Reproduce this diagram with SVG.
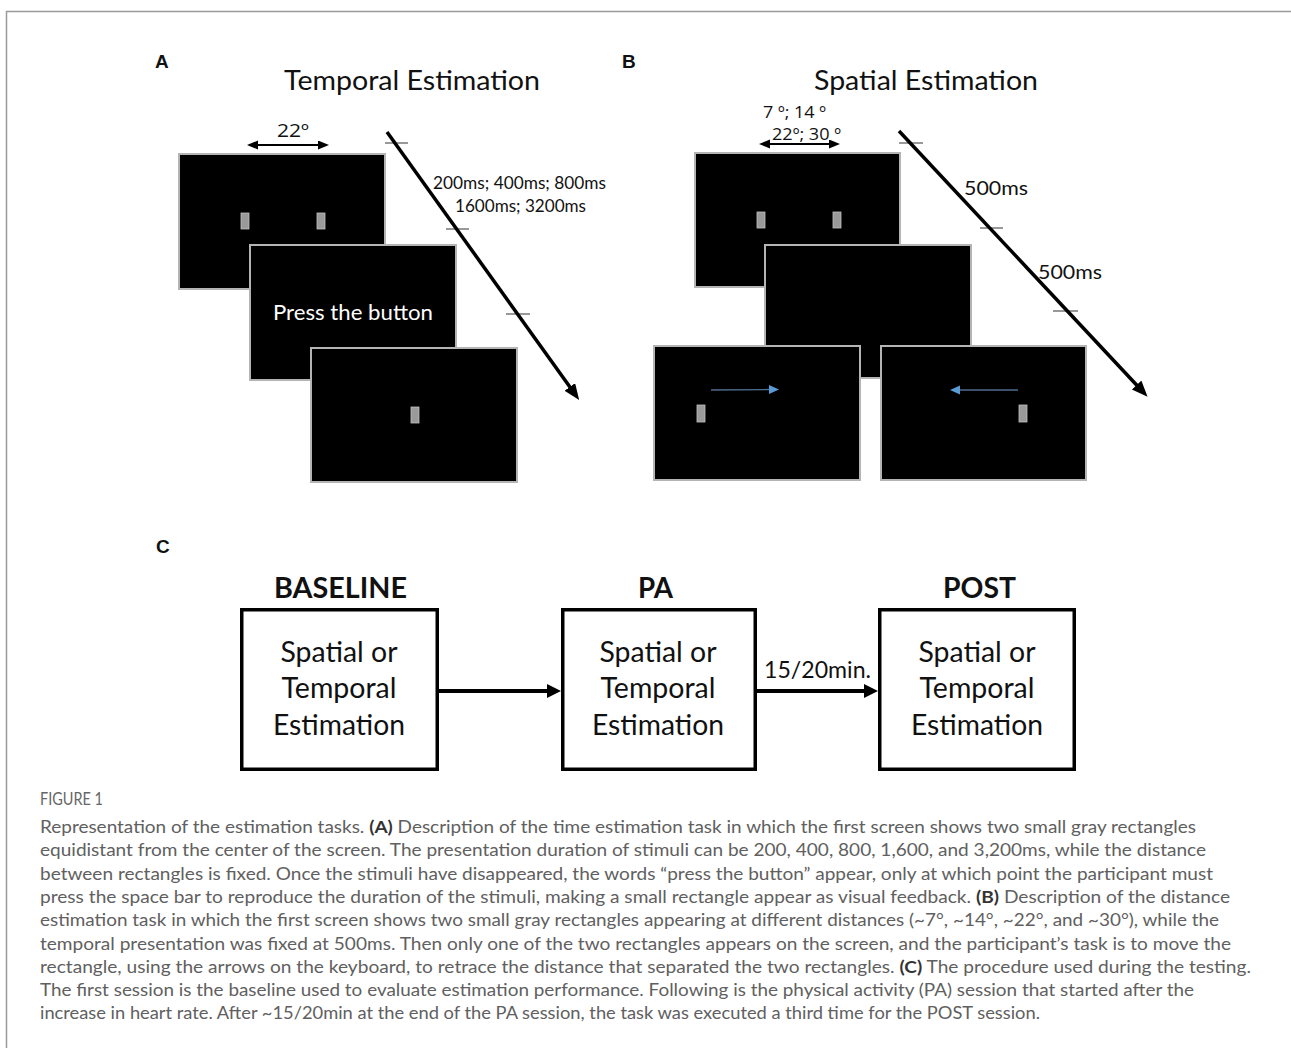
<svg xmlns="http://www.w3.org/2000/svg" width="1291" height="1048" viewBox="0 0 1291 1048">
<style>
.scr{fill:#000;stroke:#b4b4b4;stroke-width:2}
.pix{fill:#9a9a9a;stroke:#c0c0c0;stroke-width:0.8}
.lbl{font-family:Lato,"Open Sans",sans-serif;fill:#111}
.ord{font-family:"Open Sans","DejaVu Sans",sans-serif;fill:#111}
.pan{font-family:"Liberation Sans",Arial,sans-serif;font-weight:bold;font-size:19px;fill:#111}
.tick{stroke:#555;stroke-width:1.2}
.tl{stroke:#000;stroke-width:3.5;fill:none}
.dbl{stroke:#000;stroke-width:2;fill:none}
.blue{stroke:#4f6d8f;stroke-width:1.3;fill:none}
.box{fill:#fff;stroke:#000;stroke-width:3.5}
.flow{stroke:#000;stroke-width:4;fill:none}
.cap{font-family:Lato,"Open Sans",sans-serif;font-size:17px;fill:#606060}
.capb{font-weight:bold;fill:#333}
</style>
<defs>
<marker id="tlHead" markerUnits="userSpaceOnUse" markerWidth="18" markerHeight="14" refX="2" refY="6.5" orient="auto"><path d="M0,0 L16,6.5 L0,13 z" fill="#000"/></marker>
<marker id="flowHead" markerUnits="userSpaceOnUse" markerWidth="16" markerHeight="16" refX="1" refY="7" orient="auto"><path d="M0,0 L14,7 L0,14 z" fill="#000"/></marker>
<marker id="dblHead" markerUnits="userSpaceOnUse" markerWidth="12" markerHeight="10" refX="1" refY="4.5" orient="auto-start-reverse"><path d="M0,0 L11,4.5 L0,9 z" fill="#000"/></marker>
<marker id="blueHead" markerUnits="userSpaceOnUse" markerWidth="12" markerHeight="12" refX="1" refY="4.5" orient="auto"><path d="M0,0 L10,4.5 L0,9 z" fill="#5b9bd5"/></marker>
</defs>

<path d="M6.5,1048 V11.5 H1291" fill="none" stroke="#9a9a9a" stroke-width="1.5"/>

<g id="panelA">
<text class="pan" x="155" y="68">A</text>
<text class="lbl" x="284" y="90" font-size="26" textLength="256" lengthAdjust="spacingAndGlyphs">Temporal Estimation</text>
<g id="screenA1"><rect class="scr" x="179" y="154" width="206" height="135"/><rect class="pix" x="241" y="213" width="8" height="16"/><rect class="pix" x="317" y="213" width="8" height="16"/></g>
<g id="screenA2"><rect class="scr" x="250" y="245" width="206" height="135"/><text class="lbl" x="273" y="320" font-size="22" style="fill:#fff" textLength="160" lengthAdjust="spacingAndGlyphs">Press the button</text></g>
<g id="screenA3"><rect class="scr" x="311" y="348" width="206" height="134"/><rect class="pix" x="411" y="407" width="8" height="16"/></g>
<g id="distA"><line class="dbl" x1="257" y1="145" x2="319" y2="145" marker-start="url(#dblHead)" marker-end="url(#dblHead)"/><text class="ord" x="277" y="137" font-size="18" textLength="32" lengthAdjust="spacingAndGlyphs">22º</text></g>
<g id="timeA">
<line class="tick" x1="385" y1="143" x2="408" y2="143"/>
<line class="tick" x1="446" y1="229" x2="469" y2="229"/>
<line class="tick" x1="506" y1="314" x2="530" y2="314"/>
<text class="lbl" x="433" y="189" font-size="17" textLength="173" lengthAdjust="spacingAndGlyphs">200ms; 400ms; 800ms</text>
<text class="lbl" x="455" y="212" font-size="17" textLength="131" lengthAdjust="spacingAndGlyphs">1600ms; 3200ms</text>
</g>
</g>

<g id="panelB">
<text class="pan" x="622" y="68">B</text>
<text class="lbl" x="814" y="90" font-size="26" textLength="224" lengthAdjust="spacingAndGlyphs">Spatial Estimation</text>
<g id="screenB1"><rect class="scr" x="695" y="153" width="205" height="134"/><rect class="pix" x="757" y="212" width="8" height="16"/><rect class="pix" x="833" y="212" width="8" height="16"/></g>
<g id="screenB2"><rect class="scr" x="765" y="245" width="206" height="133"/></g>
<g id="screenB3"><rect class="scr" x="654" y="346" width="206" height="134"/><rect class="pix" x="697" y="405" width="8" height="17"/><line class="blue" x1="711" y1="390" x2="770" y2="389.5" marker-end="url(#blueHead)"/></g>
<g id="screenB4"><rect class="scr" x="881" y="346" width="205" height="134"/><rect class="pix" x="1019" y="405" width="8" height="17"/><line class="blue" x1="1018" y1="390" x2="959" y2="390" marker-end="url(#blueHead)"/></g>
<g id="distB"><line class="dbl" x1="769" y1="144" x2="830" y2="144" marker-start="url(#dblHead)" marker-end="url(#dblHead)"/>
<text class="ord" x="763" y="118" font-size="17" textLength="63" lengthAdjust="spacingAndGlyphs">7 º; 14 º</text>
<text class="ord" x="772" y="140" font-size="17" textLength="69" lengthAdjust="spacingAndGlyphs">22º; 30 º</text></g>
<g id="timeB">
<line class="tick" x1="899" y1="143" x2="923" y2="143"/>
<line class="tick" x1="980" y1="228" x2="1003" y2="228"/>
<line class="tick" x1="1053" y1="311" x2="1078" y2="311"/>
<text class="lbl" x="964" y="195" font-size="20" textLength="64" lengthAdjust="spacingAndGlyphs">500ms</text>
<text class="lbl" x="1038" y="279" font-size="20" textLength="64" lengthAdjust="spacingAndGlyphs">500ms</text>
</g>
</g>

<g id="panelC">
<text class="pan" x="156" y="553">C</text>
<g id="baseline">
<text class="lbl" x="274" y="598" font-size="28" font-weight="bold" textLength="133" lengthAdjust="spacingAndGlyphs">BASELINE</text>
<rect class="box" x="241.75" y="609.75" width="195.5" height="159.5"/>
<text class="lbl" x="339" y="662" font-size="28" text-anchor="middle" textLength="117" lengthAdjust="spacingAndGlyphs">Spatial or</text>
<text class="lbl" x="339" y="698" font-size="28" text-anchor="middle" textLength="115" lengthAdjust="spacingAndGlyphs">Temporal</text>
<text class="lbl" x="339" y="735" font-size="28" text-anchor="middle" textLength="132" lengthAdjust="spacingAndGlyphs">Estimation</text>
</g>
<g id="pa">
<text class="lbl" x="638" y="598" font-size="28" font-weight="bold" textLength="35" lengthAdjust="spacingAndGlyphs">PA</text>
<rect class="box" x="562.75" y="609.75" width="192.5" height="159.5"/>
<text class="lbl" x="658" y="662" font-size="28" text-anchor="middle" textLength="117" lengthAdjust="spacingAndGlyphs">Spatial or</text>
<text class="lbl" x="658" y="698" font-size="28" text-anchor="middle" textLength="115" lengthAdjust="spacingAndGlyphs">Temporal</text>
<text class="lbl" x="658" y="735" font-size="28" text-anchor="middle" textLength="132" lengthAdjust="spacingAndGlyphs">Estimation</text>
</g>
<g id="post">
<text class="lbl" x="943" y="598" font-size="28" font-weight="bold" textLength="73" lengthAdjust="spacingAndGlyphs">POST</text>
<rect class="box" x="879.75" y="609.75" width="194.5" height="159.5"/>
<text class="lbl" x="977" y="662" font-size="28" text-anchor="middle" textLength="117" lengthAdjust="spacingAndGlyphs">Spatial or</text>
<text class="lbl" x="977" y="698" font-size="28" text-anchor="middle" textLength="115" lengthAdjust="spacingAndGlyphs">Temporal</text>
<text class="lbl" x="977" y="735" font-size="28" text-anchor="middle" textLength="132" lengthAdjust="spacingAndGlyphs">Estimation</text>
</g>
</g>

<g id="connectors">
<line class="tl" x1="387" y1="132" x2="571" y2="388.5" marker-end="url(#tlHead)"/>
<line class="tl" x1="899" y1="131" x2="1138" y2="386.5" marker-end="url(#tlHead)"/>
<line class="flow" x1="439" y1="691" x2="548" y2="691" marker-end="url(#flowHead)"/>
<line class="flow" x1="757" y1="691" x2="865" y2="691" marker-end="url(#flowHead)"/>
<text class="lbl" x="764" y="678" font-size="24" textLength="107" lengthAdjust="spacingAndGlyphs">15/20min.</text>
</g>

<g id="caption">
<text class="cap" x="40" y="805" font-size="13" textLength="63" lengthAdjust="spacingAndGlyphs" style="fill:#666">FIGURE 1</text>
<text class="cap" x="40" y="833" textLength="1156" lengthAdjust="spacingAndGlyphs">Representation of the estimation tasks. <tspan class="capb">(A)</tspan> Description of the time estimation task in which the first screen shows two small gray rectangles</text>
<text class="cap" x="40" y="856.3" textLength="1166" lengthAdjust="spacingAndGlyphs">equidistant from the center of the screen. The presentation duration of stimuli can be 200, 400, 800, 1,600, and 3,200ms, while the distance</text>
<text class="cap" x="40" y="879.6" textLength="1173" lengthAdjust="spacingAndGlyphs">between rectangles is fixed. Once the stimuli have disappeared, the words “press the button” appear, only at which point the participant must</text>
<text class="cap" x="40" y="902.9" textLength="1190" lengthAdjust="spacingAndGlyphs">press the space bar to reproduce the duration of the stimuli, making a small rectangle appear as visual feedback. <tspan class="capb">(B)</tspan> Description of the distance</text>
<text class="cap" x="40" y="926.2" textLength="1179" lengthAdjust="spacingAndGlyphs">estimation task in which the first screen shows two small gray rectangles appearing at different distances (~7°, ~14°, ~22°, and ~30°), while the</text>
<text class="cap" x="40" y="949.5" textLength="1191" lengthAdjust="spacingAndGlyphs">temporal presentation was fixed at 500ms. Then only one of the two rectangles appears on the screen, and the participant’s task is to move the</text>
<text class="cap" x="40" y="972.8" textLength="1211" lengthAdjust="spacingAndGlyphs">rectangle, using the arrows on the keyboard, to retrace the distance that separated the two rectangles. <tspan class="capb">(C)</tspan> The procedure used during the testing.</text>
<text class="cap" x="40" y="996.1" textLength="1154" lengthAdjust="spacingAndGlyphs">The first session is the baseline used to evaluate estimation performance. Following is the physical activity (PA) session that started after the</text>
<text class="cap" x="40" y="1019.4" textLength="1000" lengthAdjust="spacingAndGlyphs">increase in heart rate. After ~15/20min at the end of the PA session, the task was executed a third time for the POST session.</text>
</g>
</svg>
